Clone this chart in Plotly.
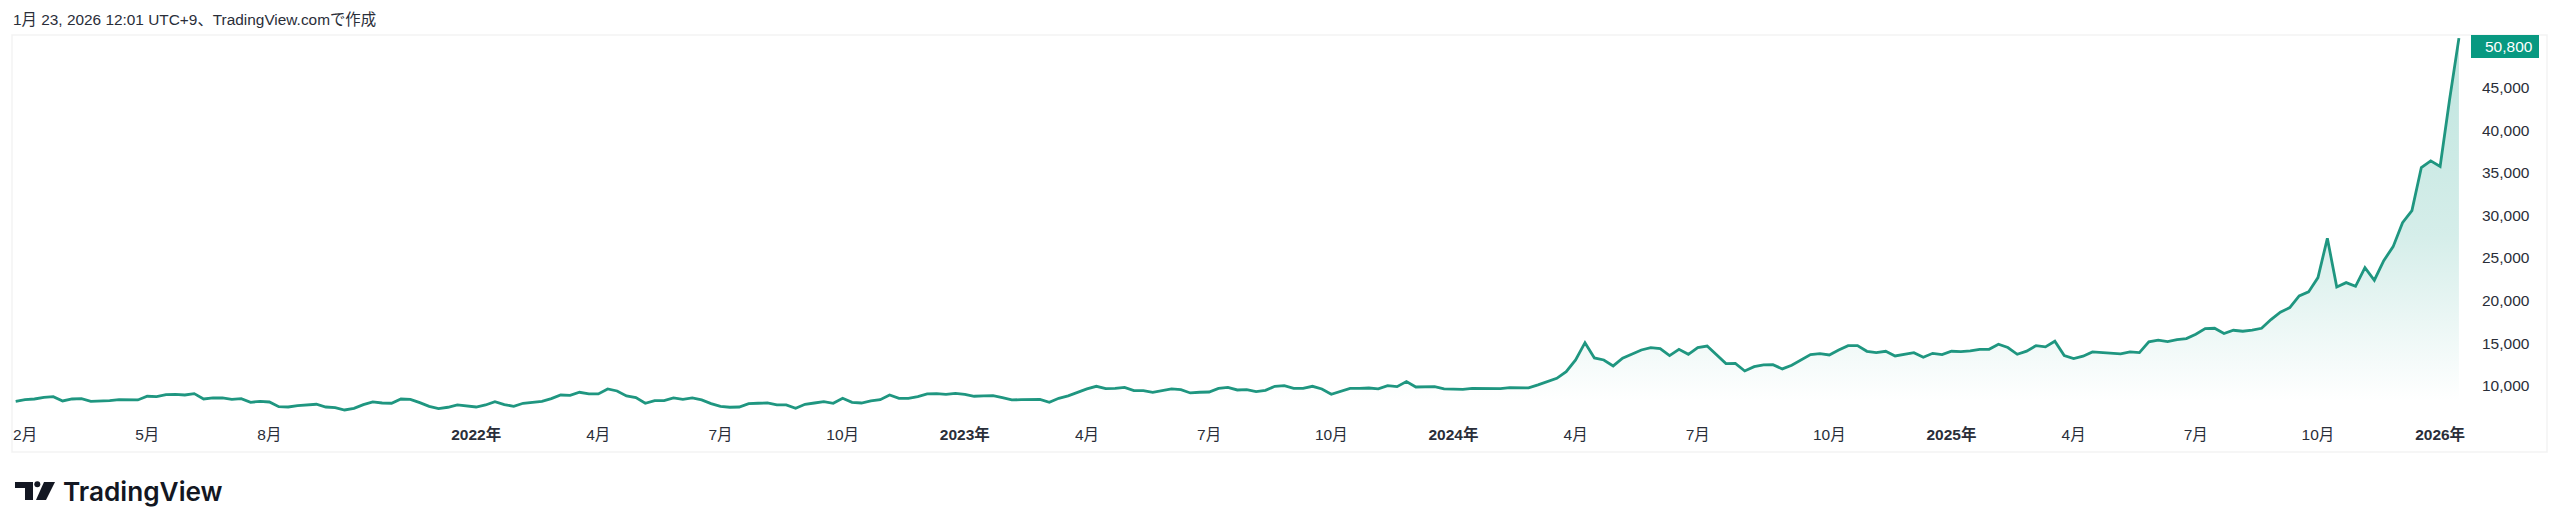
import pandas as pd
import plotly.graph_objects as go

# weekly closes
values_2021 = [8180, 8370, 8450, 8650, 8730, 8220, 8450, 8490, 8180, 8180, 8260, 8370, 8370, 8340, 8770, 8730,
               8960, 9000, 8920, 9080, 8450, 8570, 8570, 8410, 8490, 8060, 8180, 8100, 7550, 7510, 7670, 7750,
               7830, 7510, 7440, 7160, 7360, 7790, 8100, 7980, 7950, 8450, 8410, 8020, 7590, 7320, 7480, 7750,
               7670, 7510, 7750, 8140]
values_2022 = [7790, 7590, 7950, 8100, 8180, 8490, 8920, 8880, 9240, 9040, 9040, 9630, 9390, 8810, 8610, 7950,
               8260, 8260, 8570, 8410, 8570, 8340, 7910, 7590, 7480, 7510, 7910, 7950, 7980, 7750, 7750, 7360,
               7830, 7980, 8140, 7950, 8530, 8060, 7980, 8220, 8370, 8920, 8530, 8530, 8730, 9040, 9080, 9000,
               9120, 9000, 8770, 8810, 8840]
values_2023 = [8610, 8340, 8370, 8410, 8410, 8060, 8530, 8810, 9240, 9630, 9940, 9670, 9700, 9820, 9430, 9430,
               9240, 9470, 9630, 9550, 9160, 9240, 9270, 9700, 9820, 9510, 9550, 9310, 9470, 9940, 10020, 9700,
               9700, 9940, 9630, 9000, 9350, 9700, 9700, 9740, 9630, 10020, 9900, 10490, 9860, 9860, 9900, 9630,
               9590, 9590, 9700, 9700, 9700]
values_2024 = [9670, 9790, 9790, 9750, 10100, 10490, 10880, 11660, 13030, 15060, 13270, 13030, 12330, 13230,
               13700, 14200, 14480, 14360, 13540, 14280, 13700, 14480, 14670, 13660, 12600, 12640, 11740, 12250,
               12450, 12480, 11980, 12410, 12990, 13660, 13770, 13620, 14200, 14710, 14710, 14050, 13890, 14050,
               13500, 13700, 13890, 13340, 13810, 13660, 14050, 14010, 14090, 14280, 14280, 14870]
values_2025 = [14490, 13700, 14060, 14720, 14570, 15230, 13550, 13200, 13470, 13980, 13900, 13860, 13740, 13980,
               13900, 15150, 15350, 15190, 15430, 15540, 16050, 16720, 16750, 16130, 16520, 16400, 16520, 16750,
               17770, 18630, 19180, 20550, 21020, 22700, 27310, 21600, 22110, 21680, 23870, 22390, 24690, 26330,
               29150, 30560, 35620, 36400, 35730, 43550, 50800]
values = values_2021 + values_2022 + values_2023 + values_2024 + values_2025
dates = pd.date_range('2021-01-25', periods=len(values), freq='7D')

x_ticks = ['2021-02-01', '2021-05-03', '2021-08-02', '2022-01-03', '2022-04-04', '2022-07-04', '2022-10-03',
           '2023-01-02', '2023-04-03', '2023-07-03', '2023-10-02', '2024-01-01', '2024-04-01', '2024-07-01',
           '2024-10-07', '2025-01-06', '2025-04-07', '2025-07-07', '2025-10-06', '2026-01-05']
x_labels = ['2月', '5月', '8月', '<b>2022年</b>', '4月', '7月', '10月', '<b>2023年</b>', '4月', '7月', '10月',
            '<b>2024年</b>', '4月', '7月', '10月', '<b>2025年</b>', '4月', '7月', '10月', '<b>2026年</b>']
y_ticks = [10000, 15000, 20000, 25000, 30000, 35000, 40000, 45000]
y_labels = ['10,000', '15,000', '20,000', '25,000', '30,000', '35,000', '40,000', '45,000']

W, H = 2560, 531
PAGE = 8  # browser body margin around the plot div
L, R, T, B = 13, 2471, 35, 418  # pane edges in page pixels
FONT = 'Liberation Sans, Noto Sans CJK JP'
GREEN = '#089981'
LINE = '#1f9680'
INK = '#2a2e39'
LOGO = '#131722'


def px(x):
    return (x - L) / (R - L)


def py(y):
    return (B - y) / (B - T)


def poly(points):
    return 'M' + ' L'.join(f'{px(x):.5f},{py(y):.5f}' for x, y in points) + ' Z'


fig = go.Figure(go.Scatter(
    x=dates,
    y=values,
    mode='lines',
    line=dict(color=LINE, width=2.8),
    fill='tozeroy',
    fillgradient=dict(type='vertical',
                      colorscale=[[0, 'rgba(8,153,129,0.26)'], [0.54, 'rgba(8,153,129,0.17)'],
                                  [1, 'rgba(8,153,129,0)']],
                      start=50800, stop=8100),
    hoverinfo='skip',
))

fig.update_layout(
    width=W - 2 * PAGE, height=H - 2 * PAGE,
    margin=dict(l=L - PAGE, r=W - PAGE - R, t=T - PAGE, b=H - PAGE - B),
    paper_bgcolor='white', plot_bgcolor='white',
    showlegend=False,
    font=dict(family=FONT, size=15.5, color=INK),
    xaxis=dict(type='date', range=['2021-01-23', '2026-01-28'], tickmode='array', tickvals=x_ticks,
               ticktext=x_labels, showgrid=False, zeroline=False, showline=False, ticks='',
               ticklabelstandoff=5, tickangle=0),
    yaxis=dict(side='right', range=[6220, 51170], tickmode='array', tickvals=y_ticks, ticktext=y_labels,
               showgrid=False, zeroline=False, showline=False, ticks='', ticklabelstandoff=10),
)

# panel frame around pane and axes
fig.add_shape(type='rect', xref='paper', yref='paper', x0=px(12), x1=px(2547), y0=py(452), y1=py(35),
              line=dict(color='#f3f3f3', width=1.5), layer='below')
# last price tag
fig.add_shape(type='rect', xref='paper', yref='paper', x0=px(2471), x1=px(2539), y0=py(58), y1=py(35),
              line=dict(width=0), fillcolor=GREEN)
fig.add_annotation(xref='paper', yref='paper', x=px(2484), y=py(46), xanchor='left', yanchor='middle',
                   text='50,800', showarrow=False, borderpad=0, font=dict(color='white', size=15.5, family=FONT))
# header
fig.add_annotation(xref='paper', yref='paper', x=px(11), y=py(20), xanchor='left', yanchor='middle',
                   text='1月 23, 2026 12:01 UTC+9、TradingView.comで作成', showarrow=False,
                   font=dict(color=INK, size=15.4, family=FONT))
# footer logo and wordmark
logo_shapes = [
    [(15, 482), (33, 482), (33, 500), (25, 500), (25, 488), (15, 488)],
    [(44, 482), (55, 482), (46, 500), (36, 500)],
]
for pts in logo_shapes:
    fig.add_shape(type='path', xref='paper', yref='paper', path=poly(pts), fillcolor=LOGO, line=dict(width=0))
fig.add_shape(type='circle', xref='paper', yref='paper', x0=px(34.3), x1=px(40.3), y0=py(487.3), y1=py(481.3),
              fillcolor=LOGO, line=dict(width=0))
fig.add_annotation(xref='paper', yref='paper', x=px(61), y=py(491), xanchor='left', yanchor='middle',
                   text='TradingView', showarrow=False,
                   font=dict(color=LOGO, size=26.2, family='Inter', weight=600))

fig.write_html('out.html')
